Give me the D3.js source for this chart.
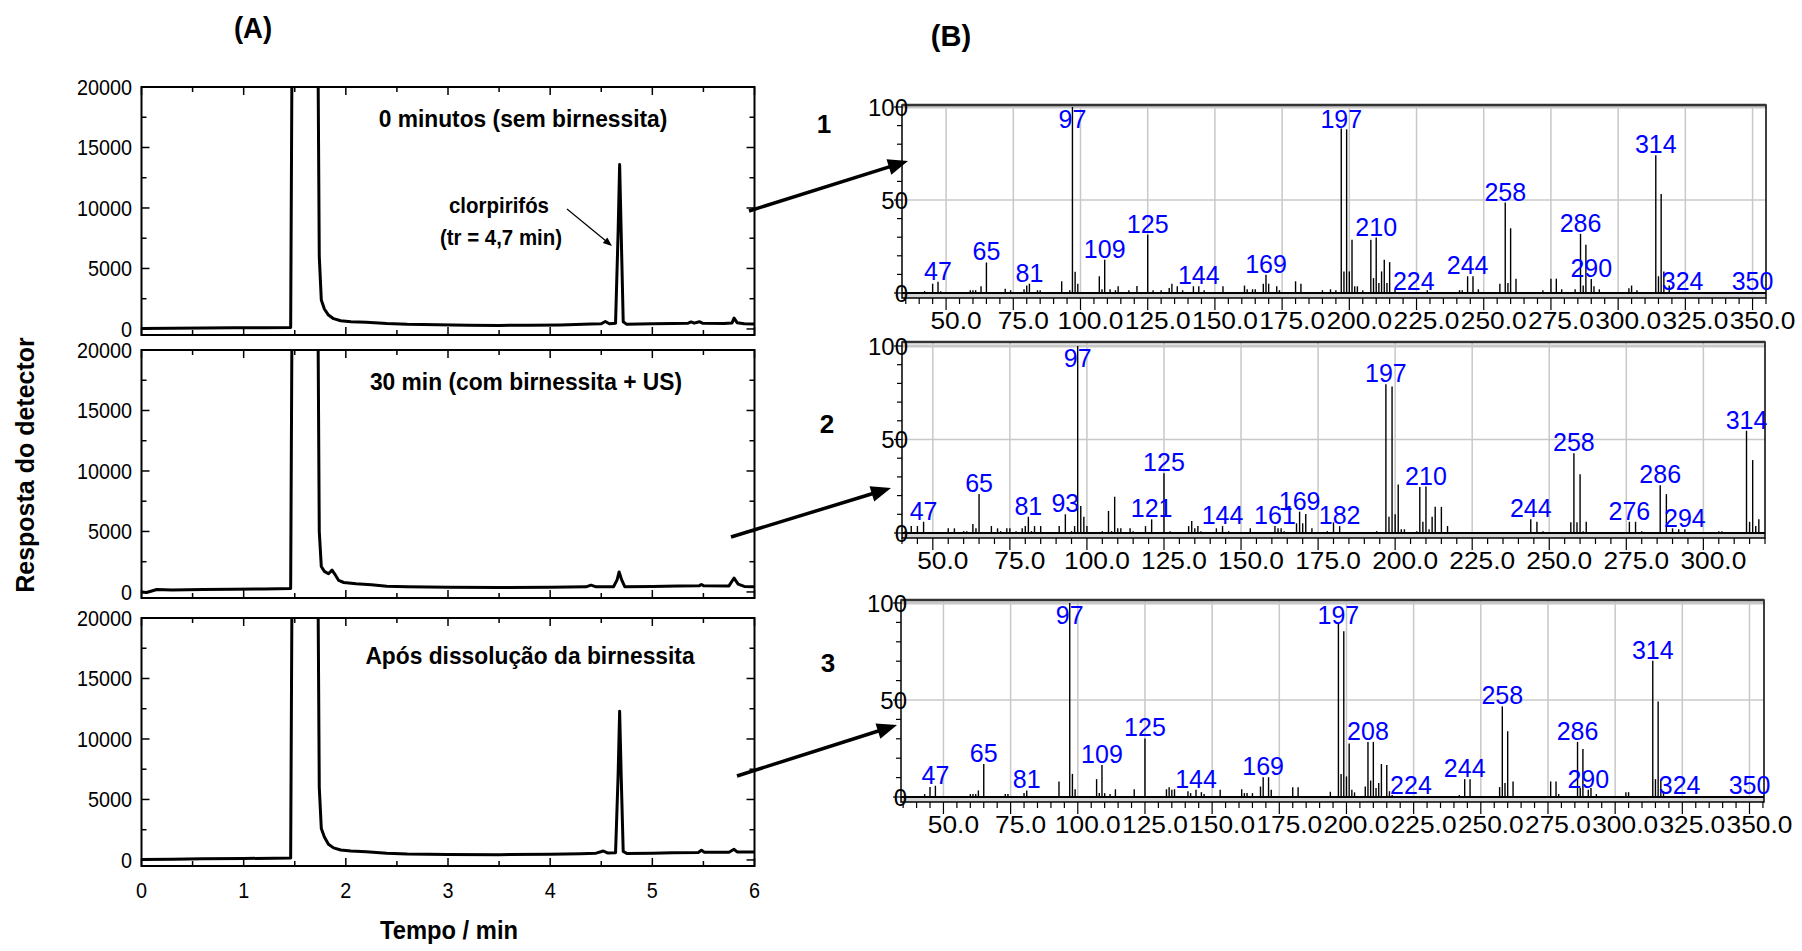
<!DOCTYPE html>
<html>
<head>
<meta charset="utf-8">
<script src="https://d3js.org/d3.v7.min.js"></script>
<style>
  body { margin: 0; background: #fff; }
  svg { display: block; }
</style>
</head>
<body>
<svg id="fig" width="1802" height="951"></svg>
<script>
const FONT = '"Liberation Sans", Arial, Helvetica, sans-serif';

// ---------- (A) chromatograms: [time / min, detector response]
const chrom0 = [[0,40],[0.3,60],[0.6,70],[0.9,90],[1.2,100],[1.46,120],[1.475,26000],[1.725,26000],[1.74,6000],[1.76,2400],[1.79,1650],[1.83,1150],[1.88,850],[1.95,680],[2.05,600],[2.2,560],[2.4,450],[2.6,380],[2.9,340],[3.2,300],[3.5,290],[3.8,310],[4.1,330],[4.4,400],[4.5,430],[4.54,620],[4.58,430],[4.64,480],[4.665,8000],[4.68,13600],[4.695,8000],[4.715,600],[4.75,380],[5.0,420],[5.2,450],[5.35,480],[5.38,580],[5.41,480],[5.46,600],[5.49,480],[5.7,460],[5.78,500],[5.8,900],[5.83,520],[5.9,430],[6.0,400]];
const chrom30 = [[0,0],[0.05,-50],[0.15,200],[0.3,170],[0.6,200],[0.9,230],[1.2,250],[1.46,280],[1.475,26000],[1.725,26000],[1.74,5000],[1.76,2100],[1.79,1700],[1.83,1500],[1.865,1800],[1.89,1500],[1.93,950],[1.98,780],[2.1,680],[2.25,600],[2.4,480],[2.6,430],[3.0,380],[3.5,360],[4.0,380],[4.35,420],[4.4,560],[4.45,420],[4.62,430],[4.655,1000],[4.675,1650],[4.70,1000],[4.73,440],[5.0,450],[5.25,500],[5.46,520],[5.48,620],[5.5,520],[5.75,500],[5.8,1150],[5.84,650],[5.9,460],[6.0,420]];
const chromDiss = [[0,40],[0.3,60],[0.6,90],[1.0,120],[1.3,150],[1.46,170],[1.475,26000],[1.725,26000],[1.74,6000],[1.76,2600],[1.79,1900],[1.83,1300],[1.88,1000],[1.95,820],[2.05,740],[2.2,680],[2.4,560],[2.6,500],[3.0,460],[3.5,440],[4.0,470],[4.3,520],[4.45,560],[4.52,740],[4.56,580],[4.64,600],[4.665,7000],[4.68,12300],[4.695,7000],[4.715,700],[4.75,540],[5.0,560],[5.2,600],[5.45,620],[5.48,800],[5.51,630],[5.75,640],[5.8,880],[5.83,660],[6.0,660]];
const chromTitles = ["0 minutos (sem birnessita)", "30 min (com birnessita + US)", "Após dissolução da birnessita"];
const timeTicks = [0, 1, 2, 3, 4, 5, 6];
const respTicks = [0, 5000, 10000, 15000, 20000];

// ---------- (B) mass spectra: [m/z, relative intensity %]
const spec1 = [[42,1],[45,5],[47,6],[48,1],[59,1.5],[60,1.5],[61,1.5],[63,3.6],[65,16.4],[72,2.3],[74,1.5],[79,2],[80,4],[81,5],[84,1.5],[85,1.5],[93,6.3],[96,1.5],[97,100],[98,11.4],[99,5],[107,9],[108,2],[109,17.9],[111,2],[113,1.5],[114,3.6],[118,1.5],[121,3.8],[125,31.3],[127,1.5],[130,1.5],[133,2.7],[134,5],[136,3.6],[138,1.5],[142,3.6],[144,3.6],[146,1.5],[153,3.6],[161,4],[162,2],[164,2],[165,2],[168,5],[169,9.8],[170,5],[173,3.6],[174,1.5],[180,6.3],[182,5],[190,1.5],[193,2],[195,1.5],[197,88.4],[198,11.6],[199,88],[200,11.6],[201,28.6],[202,3.6],[203,3.6],[205,1.5],[208,28.6],[209,8],[210,29.8],[211,5.4],[212,11.6],[213,17.9],[214,5.4],[215,16.6],[217,2],[224,0.6],[229,1.5],[241,1.5],[242,1.5],[244,9],[246,9],[248,2],[256,5],[258,48.6],[259,5.4],[260,34.8],[262,7.7],[272,1.5],[275,7.7],[277,7.7],[279,2],[284,2],[286,31.8],[287,4],[288,26],[290,7.5],[291,3.6],[293,2],[304,2.5],[305,4],[307,1.5],[314,74.1],[315,9],[316,53.2],[317,11.6],[319,4],[324,0.6],[350,0.6]];
const spec1Labels = [47, 65, 81, 97, 109, 125, 144, 169, 197, 210, 224, 244, 258, 286, 290, 314, 324, 350];

const spec2 = [[41,1],[43,3.7],[45,3.7],[47,6],[55,2.5],[57,2.5],[60,1],[61,1],[63,4.8],[64,2.5],[65,20.9],[69,3.7],[71,2.5],[72,1],[74,2.5],[75,2.5],[77,1],[79,2.5],[80,3.7],[81,8.7],[82,1],[83,3.7],[85,3.7],[91,3.7],[93,10],[95,1],[96,3.7],[97,100],[98,14.4],[99,8.7],[100,3.7],[105,1],[107,11.8],[108,1],[109,19.4],[110,2.5],[111,2.5],[114,2.5],[115,1],[119,3.7],[121,7.3],[125,31.9],[127,1],[133,3.7],[134,6.4],[135,2.5],[136,3.7],[137,1],[142,2.5],[144,3.7],[146,1],[153,2.5],[161,3.7],[162,2.5],[163,2.5],[164,1],[168,5.2],[169,11.4],[170,5.2],[171,10.2],[173,2.5],[178,1],[180,5.7],[182,3.7],[194,1],[197,79.6],[198,8.7],[199,78.4],[200,10],[201,26],[202,2],[203,2],[207,1],[208,24.6],[209,6],[210,24.8],[211,2],[212,8.7],[213,14],[215,14],[217,3.7],[244,7.3],[246,6],[248,1],[257,5.7],[258,42.6],[259,5.7],[260,31.4],[261,1],[262,6],[276,6],[278,6],[280,1],[286,25.5],[288,20.8],[290,2.5],[292,2],[294,2],[305,1],[306,1],[314,54.7],[315,6],[316,39],[317,3.7],[318,7.3]];
const spec2Labels = [47, 65, 81, 93, 97, 121, 125, 144, 161, 169, 182, 197, 210, 244, 258, 276, 286, 294, 314];

const spec3 = [[43,1.5],[45,5.1],[47,5.8],[60,1.5],[61,1.5],[62,1.5],[63,3.4],[65,17],[73,1.5],[74,1.5],[80,2],[81,3.4],[93,8],[97,100],[98,11.9],[99,4],[107,9.2],[108,2],[109,16.5],[110,2],[112,1.5],[114,4],[121,4],[125,30.2],[133,4],[134,5],[135,3.7],[136,4],[141,3],[142,2],[144,3.7],[146,2.5],[147,1.5],[153,3.7],[161,4],[162,2],[163,2],[165,2],[168,5.4],[169,10.2],[171,10.2],[172,3.7],[180,5],[182,5],[194,2.7],[197,89.8],[198,11.9],[199,85.5],[200,10.6],[201,27.6],[202,3.7],[203,2.4],[207,5.4],[208,28.4],[209,8.5],[210,28.4],[211,4.6],[212,7.2],[213,17],[215,16.5],[216,3],[217,1],[224,0.5],[242,1],[244,9.2],[246,9.2],[257,5.1],[258,46.7],[259,7.2],[260,33.9],[262,8],[276,8],[278,8],[279,1.5],[286,28.4],[287,4.6],[288,24.7],[290,3.7],[291,4.6],[293,1.5],[304,2.5],[305,2.5],[314,70.2],[315,9.2],[316,49.2],[317,9.2],[318,3],[324,0.5],[350,0.5]];
const spec3Labels = [47, 65, 81, 97, 109, 125, 144, 169, 197, 208, 224, 244, 258, 286, 290, 314, 324, 350];

const spectrumNames = ["1", "2", "3"];

const svg = d3.select("#fig");
svg.append("rect").attr("width", 1802).attr("height", 951).attr("fill", "#fff");

function arrow(g, x1, y1, x2, y2, width, len, half) {
  const a = Math.atan2(y2 - y1, x2 - x1);
  const bx = x2 - len * Math.cos(a), by = y2 - len * Math.sin(a);
  const px = -Math.sin(a) * half, py = Math.cos(a) * half;
  g.append("line")
    .attr("x1", x1).attr("y1", y1)
    .attr("x2", bx + Math.cos(a) * 2).attr("y2", by + Math.sin(a) * 2)
    .attr("stroke", "#000").attr("stroke-width", width);
  g.append("path")
    .attr("d", `M${x2},${y2}L${bx + px},${by + py}L${bx - px},${by - py}Z`)
    .attr("fill", "#000");
}

// narrow-ish bold label, like the original's condensed lettering
function label(g, x, y, txt, size, sx, bold) {
  return g.append("text")
    .attr("transform", `translate(${x},${y}) scale(${sx},1)`)
    .attr("text-anchor", "middle")
    .attr("font-family", FONT).attr("font-size", size)
    .attr("font-weight", bold ? "bold" : "normal")
    .text(txt);
}

// ==========================================================
// (A) chromatograms
const chromLeft = 141.5, chromRight = 754.5;
const chromBoxes = [
  { top: 87, bottom: 335, titleX: 523, titleY: 127 },
  { top: 350, bottom: 598, titleX: 526, titleY: 390 },
  { top: 618, bottom: 866, titleX: 530, titleY: 664 }
];
const chromData = [chrom0, chrom30, chromDiss];

const gA = svg.append("g");

chromData.forEach((data, i) => {
  const box = chromBoxes[i];
  const x = d3.scaleLinear().domain([0, 6]).range([chromLeft, chromRight]);
  const y = d3.scaleLinear().domain([-500, 20000]).range([box.bottom, box.top]);
  const g = gA.append("g");

  g.append("clipPath").attr("id", "clipA" + i)
    .append("rect")
    .attr("x", chromLeft).attr("y", box.top)
    .attr("width", chromRight - chromLeft).attr("height", box.bottom - box.top);

  // ticks, inside, all four sides
  d3.range(0, 20001, 2500).forEach(v => {
    const len = v % 5000 === 0 ? 8 : 5;
    g.append("line").attr("x1", chromLeft).attr("x2", chromLeft + len)
      .attr("y1", y(v)).attr("y2", y(v)).attr("stroke", "#000").attr("stroke-width", 1.5);
    g.append("line").attr("x1", chromRight).attr("x2", chromRight - len)
      .attr("y1", y(v)).attr("y2", y(v)).attr("stroke", "#000").attr("stroke-width", 1.5);
  });
  d3.range(0, 6.01, 0.5).forEach(v => {
    const len = Number.isInteger(v) ? 8 : 5;
    g.append("line").attr("x1", x(v)).attr("x2", x(v))
      .attr("y1", box.bottom).attr("y2", box.bottom - len).attr("stroke", "#000").attr("stroke-width", 1.5);
    g.append("line").attr("x1", x(v)).attr("x2", x(v))
      .attr("y1", box.top).attr("y2", box.top + len).attr("stroke", "#000").attr("stroke-width", 1.5);
  });

  const line = d3.line().x(d => x(d[0])).y(d => y(d[1]));
  g.append("path")
    .datum(data)
    .attr("clip-path", `url(#clipA${i})`)
    .attr("d", line)
    .attr("fill", "none")
    .attr("stroke", "#000")
    .attr("stroke-width", 3)
    .attr("stroke-linejoin", "round");

  g.append("rect")
    .attr("x", chromLeft).attr("y", box.top)
    .attr("width", chromRight - chromLeft).attr("height", box.bottom - box.top)
    .attr("fill", "none").attr("stroke", "#000").attr("stroke-width", 2);

  g.selectAll("text.ytick")
    .data(respTicks)
    .join("text")
    .attr("class", "ytick")
    .attr("transform", d => `translate(132,${y(d)}) scale(0.9,1)`)
    .attr("dy", "0.36em")
    .attr("text-anchor", "end")
    .attr("font-family", FONT)
    .attr("font-size", 22)
    .text(d => d);

  if (i === 2) {
    g.selectAll("text.xtick")
      .data(timeTicks)
      .join("text")
      .attr("class", "xtick")
      .attr("transform", d => `translate(${x(d)},898) scale(0.9,1)`)
      .attr("text-anchor", "middle")
      .attr("font-family", FONT)
      .attr("font-size", 22)
      .text(d => d);
  }

  label(g, box.titleX, box.titleY, chromTitles[i], 24, 0.95, true);
});

// clorpirifós annotation
label(gA, 499, 213, "clorpirifós", 22, 0.93, true);
label(gA, 501, 245, "(tr = 4,7 min)", 22, 0.93, true);
arrow(gA, 567, 209, 612, 246, 1.2, 9, 3.5);

label(gA, 253, 38, "(A)", 29, 0.95, true);
label(gA, 449, 939, "Tempo / min", 25, 0.95, true);
gA.append("text")
  .attr("transform", "translate(34,465) rotate(-90)")
  .attr("text-anchor", "middle")
  .attr("font-family", FONT).attr("font-size", 25).attr("font-weight", "bold")
  .text("Resposta do detector");

// ==========================================================
// (B) mass spectra
const specBoxes = [
  { left: 902, right: 1766, top: 105, y0: 293, y100: 107, axis: 298, domain: [33.6, 355], nameX: 824, nameY: 133 },
  { left: 902, right: 1765, top: 342, y0: 533, y100: 346, axis: 538, domain: [40, 320], nameX: 827, nameY: 433 },
  { left: 901, right: 1764, top: 600, y0: 797, y100: 603, axis: 802, domain: [34.2, 355.4], nameX: 828, nameY: 672 }
];
const specData = [spec1, spec2, spec3];
const specLabels = [spec1Labels, spec2Labels, spec3Labels];
const gB = svg.append("g");

specData.forEach((bars, i) => {
  const b = specBoxes[i];
  const x = d3.scaleLinear().domain(b.domain).range([b.left, b.right]);
  const y = d3.scaleLinear().domain([0, 100]).range([b.y0, b.y100]);
  const g = gB.append("g");
  const majors = d3.range(25, 400, 25).filter(v => v >= b.domain[0] && v <= b.domain[1]);
  const minors = d3.range(0, 400, 5).filter(v => v >= b.domain[0] && v <= b.domain[1]);

  // grey band between baseline and axis
  g.append("rect").attr("x", b.left).attr("y", b.y0)
    .attr("width", b.right - b.left).attr("height", b.axis - b.y0)
    .attr("fill", "#d4d4d4");

  // grid
  g.selectAll("line.vgrid").data(majors).join("line")
    .attr("class", "vgrid")
    .attr("x1", d => x(d)).attr("x2", d => x(d))
    .attr("y1", b.top).attr("y2", b.y0)
    .attr("stroke", "#c8c8c8").attr("stroke-width", 1.5);
  g.selectAll("line.hgrid").data([50, 100]).join("line")
    .attr("class", "hgrid")
    .attr("x1", b.left).attr("x2", b.right)
    .attr("y1", d => y(d)).attr("y2", d => y(d))
    .attr("stroke", "#c8c8c8").attr("stroke-width", d => d === 100 ? 3 : 1.5);

  // bars
  g.selectAll("line.bar").data(bars).join("line")
    .attr("class", "bar")
    .attr("x1", d => x(d[0])).attr("x2", d => x(d[0]))
    .attr("y1", y(0)).attr("y2", d => y(d[1]))
    .attr("stroke", "#000").attr("stroke-width", 1.4);

  // frame
  g.append("line").attr("x1", b.left).attr("x2", b.right).attr("y1", b.y0).attr("y2", b.y0)
    .attr("stroke", "#000").attr("stroke-width", 2);
  g.append("rect").attr("x", b.left).attr("y", b.top)
    .attr("width", b.right - b.left).attr("height", b.axis - b.top)
    .attr("fill", "none").attr("stroke", "#000").attr("stroke-width", 1.5);
  g.append("line").attr("x1", b.left).attr("x2", b.right).attr("y1", b.top).attr("y2", b.top)
    .attr("stroke", "#333").attr("stroke-width", 2.5);

  // y ticks (outside left)
  d3.range(0, 101, 10).forEach(v => {
    const len = v % 50 === 0 ? 8 : 5;
    g.append("line").attr("x1", b.left - len).attr("x2", b.left)
      .attr("y1", y(v)).attr("y2", y(v)).attr("stroke", "#000").attr("stroke-width", 1.2);
  });
  g.selectAll("text.ylab").data([0, 50, 100]).join("text")
    .attr("class", "ylab")
    .attr("transform", d => `translate(${b.left + 6},${y(d)}) scale(1.0,1)`)
    .attr("dy", "0.36em")
    .attr("text-anchor", "end")
    .attr("font-family", FONT).attr("font-size", 24)
    .text(d => d);

  // x ticks (outside bottom)
  minors.forEach(v => {
    const len = v % 25 === 0 ? 12 : 6;
    g.append("line").attr("x1", x(v)).attr("x2", x(v))
      .attr("y1", b.axis).attr("y2", b.axis + len).attr("stroke", "#000").attr("stroke-width", 1.2);
  });
  g.selectAll("text.xlab").data(majors).join("text")
    .attr("class", "xlab")
    .attr("transform", d => `translate(${x(d) + 10},${b.axis + 31}) scale(1.12,1)`)
    .attr("text-anchor", "middle")
    .attr("font-family", FONT).attr("font-size", 23.5)
    .text(d => d.toFixed(1));

  // peak labels
  const lookup = new Map(bars.map(d => [d[0], d[1]]));
  g.selectAll("text.peak").data(specLabels[i]).join("text")
    .attr("class", "peak")
    .attr("x", d => x(d))
    .attr("y", d => Math.max(y(lookup.get(d) || 0) - 2, y(100) + 21))
    .attr("text-anchor", "middle")
    .attr("font-family", FONT).attr("font-size", 25)
    .attr("fill", "#0000ff")
    .text(d => d);

  g.append("text").attr("x", b.nameX).attr("y", b.nameY).attr("text-anchor", "middle")
    .attr("font-family", FONT).attr("font-size", 26).attr("font-weight", "bold")
    .text(spectrumNames[i]);
});

gB.append("text").attr("x", 951).attr("y", 46).attr("text-anchor", "middle")
  .attr("font-family", FONT).attr("font-size", 29).attr("font-weight", "bold")
  .text("(B)");

// arrows from chromatograms to spectra
const gArrows = svg.append("g");
arrow(gArrows, 749, 211, 908, 161, 3.5, 20, 8);
arrow(gArrows, 731, 537, 891, 488, 3.5, 20, 8);
arrow(gArrows, 737, 776, 897, 725, 3.5, 20, 8);
</script>
</body>
</html>
